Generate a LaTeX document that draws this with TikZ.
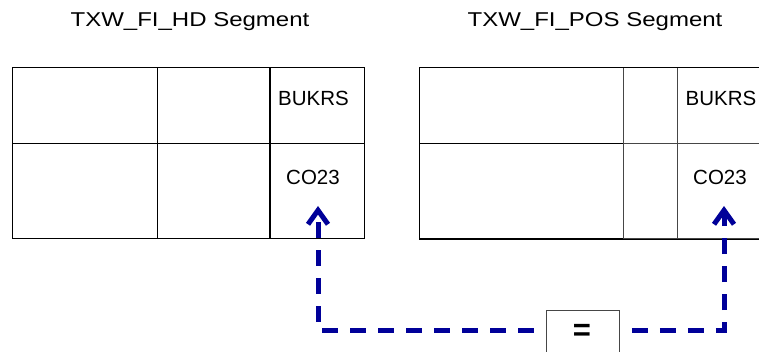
\documentclass[tikz,border=0pt]{standalone}
\usepackage{fontspec}
\setmainfont{Liberation Sans}
\newfontfamily\titlefont[FakeStretch=1.2]{Liberation Sans}
\usetikzlibrary{arrows.meta}
\definecolor{linkblue}{RGB}{0,0,153}
\definecolor{gridgray}{RGB}{70,70,70}
\tikzset{
  x=1pt, y=-1pt,
  cell/.style={draw=black, line width=1.2pt, inner sep=0pt, anchor=north west},
  gcell/.style={cell, draw=gridgray},
  celltext/.style={font=\fontsize{20.5}{24}\selectfont, anchor=base, inner sep=0pt},
  titletext/.style={font=\titlefont\fontsize{20}{24}\selectfont, anchor=base, inner sep=0pt},
  conn/.style={draw=linkblue, line width=5pt, dash pattern=on 16pt off 12pt, dash phase=16pt,
    -{Straight Barb[length=14pt, width=20pt, line join=miter]}},
  eqbox/.style={draw=gridgray, line width=1.2pt, inner sep=0pt, anchor=north west,
    minimum width=73pt, minimum height=46pt},
}
\begin{document}
\begin{tikzpicture}
\useasboundingbox (0,0) rectangle (759,352);
\clip (0,0) rectangle (759,352);
\fill[white] (0,0) rectangle (759,352);
% titles
\node[titletext] (t1) at (190,27) {TXW\_FI\_HD Segment};
\node[titletext] (t2) at (595,27) {TXW\_FI\_POS Segment};
% left table
\node[cell, minimum width=145pt, minimum height=75.4pt] (a11) at (12,67.3) {};
\node[cell, minimum width=112.3pt, minimum height=75.4pt] (a12) at (157,67.3) {};
\node[cell, minimum width=94.7pt, minimum height=75.4pt] (a13) at (269.3,67.3) {};
\node[cell, minimum width=145pt, minimum height=95.6pt] (a21) at (12,142.7) {};
\node[cell, minimum width=112.3pt, minimum height=95.6pt] (a22) at (157,142.7) {};
\node[cell, minimum width=94.7pt, minimum height=95.6pt] (a23) at (269.3,142.7) {};
\node[celltext] (bukL) at (313.5,105.7) {BUKRS};
\node[celltext] (coL) at (313,185) {CO23};
% right table
\node[cell, minimum width=203.7pt, minimum height=75.4pt] (b11) at (419,67.3) {};
\node[gcell, minimum width=54pt, minimum height=75.4pt] (b12) at (622.7,67.3) {};
\node[gcell, minimum width=94.3pt, minimum height=75.4pt] (b13) at (676.7,67.3) {};
\node[cell, minimum width=203.7pt, minimum height=95.6pt] (b21) at (419,142.7) {};
\node[gcell, minimum width=54pt, minimum height=95.6pt] (b22) at (622.7,142.7) {};
\node[gcell, minimum width=94.3pt, minimum height=95.6pt] (b23) at (676.7,142.7) {};
\draw[black, line width=1.2pt] (b11.north west) -- (b13.north east);
\draw[black, line width=1.2pt] (b21.south west) -- (b23.south east);
\node[celltext] (bukR) at (721,105.7) {BUKRS};
\node[celltext] (coR) at (720,185) {CO23};
% equality box
\node[eqbox] (eq) at (545.7,310) {};
\node[font=\bfseries\fontsize{31}{34}\selectfont, inner sep=0pt] (eqlabel) at (582,332.5) {=};
% connectors
\coordinate (cL) at (318,330);
\coordinate (cR) at (724,330);
\coordinate (tipL) at (318,206);
\coordinate (tipR) at (724,206);
\draw[conn] (eq.west |- cL) -- (cL) -- (tipL);
\draw[conn] (eq.east |- cR) -- (cR) -- (tipR);
\end{tikzpicture}
\end{document}
